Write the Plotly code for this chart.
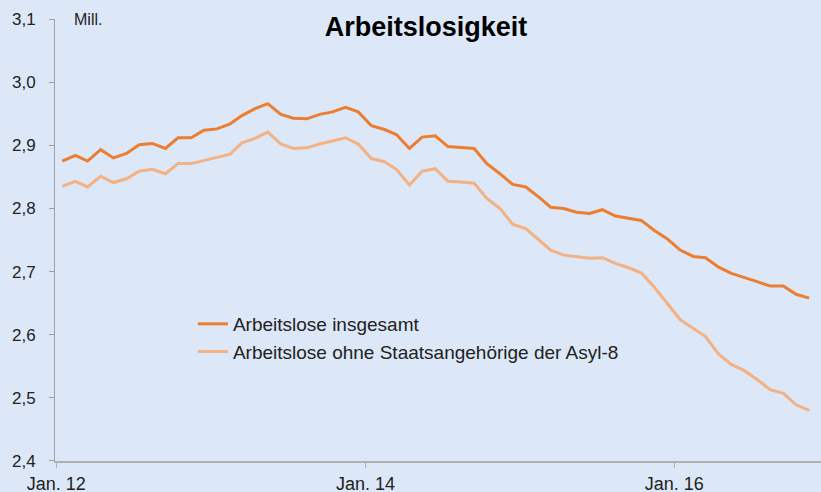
import pandas as pd
import plotly.graph_objects as go

# monthly data, Jan 2012 - Nov 2016 (million persons)
months = pd.date_range("2012-01-01", periods=59, freq="MS") + pd.Timedelta(days=14)

insgesamt = [
    2.875, 2.884, 2.875, 2.893, 2.880, 2.887, 2.901, 2.903, 2.895, 2.912,
    2.912, 2.924, 2.926, 2.934, 2.947, 2.958, 2.966, 2.949, 2.943, 2.942,
    2.949, 2.953, 2.960, 2.953, 2.931, 2.925, 2.917, 2.895, 2.913, 2.915,
    2.898, 2.896, 2.895, 2.871, 2.855, 2.838, 2.834, 2.818, 2.802, 2.800,
    2.794, 2.792, 2.798, 2.788, 2.784, 2.781, 2.765, 2.752, 2.734, 2.724,
    2.722, 2.707, 2.697, 2.691, 2.684, 2.677, 2.677, 2.664, 2.658,
]

ohne_asyl8 = [
    2.835, 2.843, 2.834, 2.851, 2.841, 2.847, 2.859, 2.862, 2.855, 2.871,
    2.871, 2.876, 2.881, 2.886, 2.904, 2.911, 2.921, 2.902, 2.895, 2.896,
    2.902, 2.907, 2.912, 2.902, 2.879, 2.874, 2.862, 2.837, 2.859, 2.863,
    2.843, 2.842, 2.840, 2.816, 2.800, 2.775, 2.768, 2.750, 2.734, 2.726,
    2.723, 2.721, 2.722, 2.713, 2.706, 2.698, 2.675, 2.650, 2.624, 2.610,
    2.597, 2.569, 2.553, 2.543, 2.529, 2.513, 2.507, 2.489, 2.480,
]

series_names = ["Arbeitslose insgesamt", "Arbeitslose ohne Staatsangehörige der Asyl-8"]
tick_dates = ["2012-01-01", "2014-01-01", "2016-01-01"]
tick_labels = ["Jan. 12", "Jan. 14", "Jan. 16"]
y_ticks = [2.4, 2.5, 2.6, 2.7, 2.8, 2.9, 3.0, 3.1]

BG = "#dce8f7"
FONT = "Liberation Sans, Arial, sans-serif"

fig = go.Figure()
fig.add_trace(go.Scatter(x=months, y=insgesamt, mode="lines", name=series_names[0],
                         line=dict(color="#ED7D31", width=3)))
fig.add_trace(go.Scatter(x=months, y=ohne_asyl8, mode="lines", name=series_names[1],
                         line=dict(color="#F4B183", width=3)))

fig.update_layout(
    width=821, height=492,
    paper_bgcolor=BG, plot_bgcolor=BG,
    margin=dict(l=55, r=0, t=19, b=31, autoexpand=False),
    separators=",.",
    font=dict(family=FONT, color="#222222"),
    title=dict(text="<b>Arbeitslosigkeit</b>", x=0.519, xanchor="center",
               y=1 - 27 / 492, yanchor="middle", xref="container", yref="container",
               font=dict(size=27, color="#000000", family=FONT)),
    showlegend=True,
    legend=dict(x=0.18, y=0.353, xanchor="left", yanchor="top",
                bgcolor="rgba(0,0,0,0)", font=dict(size=19, color="#222222"),
                itemwidth=30),
    xaxis=dict(
        range=["2011-12-29", "2016-12-13"],
        tickvals=tick_dates, ticktext=tick_labels,
        showgrid=False, zeroline=False, automargin=False,
        showline=True, linecolor="#b0b0b0", linewidth=2,
        ticks="outside", ticklen=5, tickcolor="#b0b0b0", tickwidth=1,
        tickfont=dict(size=18, color="#222222"),
        ticklabelstandoff=0,
    ),
    yaxis=dict(
        range=[2.3999, 3.1001],
        tickvals=y_ticks, tickformat=".1f",
        showgrid=False, zeroline=False, automargin=False,
        showline=True, linecolor="#a0a0a0", linewidth=1,
        ticks="outside", ticklen=5, tickcolor="#a0a0a0", tickwidth=1,
        tickfont=dict(size=17, color="#222222"),
        ticklabelstandoff=10,
    ),
)

fig.add_annotation(text="Mill.", x=(72 - 55) / 766, y=1.0, xref="paper", yref="paper",
                   showarrow=False, xanchor="left", yanchor="middle",
                   font=dict(size=16, color="#222222"))

fig.write_html(
    "out.html",
    config={"displayModeBar": False},
    post_script="document.body.style.margin='0';document.body.style.padding='0';"
                "document.body.style.background='" + BG + "';",
)
